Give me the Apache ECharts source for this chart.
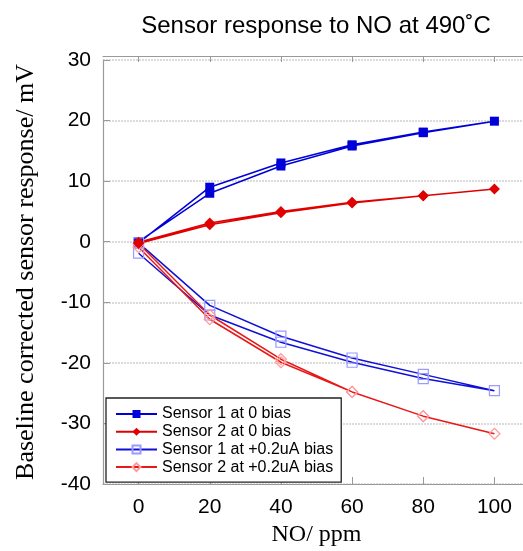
<!DOCTYPE html>
<html>
<head>
<meta charset="utf-8">
<script src="https://cdn.jsdelivr.net/npm/echarts@6/dist/echarts.min.js"></script>
<style>
html,body{margin:0;padding:0;background:#fff;}
#chart{width:523px;height:551px;}
</style>
</head>
<body>
<div id="chart"></div>
<script>
// NO concentration sequence (ppm): up-run then down-run
const noPpm = [0, 20, 40, 60, 80, 100, 80, 60, 40, 20, 0];
const sensor1ZeroBias   = [0.0, 8.0, 12.5, 15.8, 18.0, 19.9, 18.1, 16.0, 13.0, 9.0, -0.2];
const sensor2ZeroBias   = [-0.3, 2.8, 4.8, 6.4, 7.6, 8.7, 7.6, 6.5, 5.0, 3.1, -0.1];
const sensor1PlusBias   = [-0.2, -10.5, -15.6, -19.2, -21.9, -24.6, -22.6, -19.9, -16.6, -12.1, -1.9];
const sensor2PlusBias   = [-0.3, -12.1, -19.4, -24.8, -28.8, -31.7, -28.8, -24.8, -19.9, -12.8, -0.9];
const xTicks = [0, 20, 40, 60, 80, 100];
const seriesNames = ['Sensor 1 at 0 bias', 'Sensor 2 at 0 bias', 'Sensor 1 at +0.2uA bias', 'Sensor 2 at +0.2uA bias'];

const pair = ys => noPpm.map((x, i) => [x, ys[i]]);

const chart = echarts.init(document.getElementById('chart'), null, {renderer: 'canvas'});
const sans = "'Liberation Sans', Arial, sans-serif";
const serif = "'Liberation Serif', 'Times New Roman', serif";
const axisGray = '#9a9a9a';

chart.setOption({
  animation: false,
  backgroundColor: '#fff',
  title: {
    text: 'Sensor response to NO at 490˚C',
    left: 311, top: 9, textAlign: 'center',
    textStyle: {fontFamily: sans, fontSize: 24, fontWeight: 'normal', color: '#000'}
  },
  grid: {left: 103, top: 60, width: 427, height: 424, containLabel: false, outerBoundsMode: 'none'},
  legend: {
    orient: 'vertical', left: 106, top: 398,
    padding: [8, 8, 7, 9],
    itemWidth: 41, itemHeight: 10, itemGap: 1.7,
    backgroundColor: '#fff', borderColor: '#222', borderWidth: 1.3,
    textStyle: {fontFamily: sans, fontSize: 16, color: '#000', lineHeight: 16},
    data: seriesNames
  },
  xAxis: [{
    type: 'value', min: -10, max: 110,
    name: 'NO/ ppm', nameLocation: 'middle', nameGap: 38,
    nameTextStyle: {fontFamily: serif, fontSize: 24, color: '#000'},
    axisLine: {show: true, onZero: false, lineStyle: {color: axisGray, width: 1.2}},
    axisTick: {show: true, inside: true, length: 7, customValues: xTicks, lineStyle: {color: axisGray}},
    axisLabel: {customValues: xTicks, margin: 13, fontFamily: sans, fontSize: 21, color: '#000'},
    splitLine: {show: false}
  }, {
    type: 'value', min: -10, max: 110, position: 'top', offset: 4,
    axisLine: {show: true, onZero: false, lineStyle: {color: axisGray, width: 1.2}},
    axisTick: {show: true, inside: true, length: 6, customValues: xTicks, lineStyle: {color: axisGray}},
    axisLabel: {show: false},
    splitLine: {show: false}
  }],
  yAxis: {
    type: 'value', min: -40, max: 30, interval: 10,
    name: 'Baseline corrected sensor response/ mV', nameLocation: 'middle', nameGap: 64,
    nameTextStyle: {fontFamily: serif, fontSize: 26, color: '#000'},
    axisLine: {show: true, onZero: false, lineStyle: {color: axisGray, width: 1.2}},
    axisTick: {show: true, inside: true, length: 7, lineStyle: {color: axisGray}},
    axisLabel: {margin: 12, fontFamily: sans, fontSize: 21, color: '#000'},
    splitLine: {show: true, lineStyle: {color: '#cfcfcf', width: 1.5, type: [2, 1]}}
  },
  series: [{
    name: seriesNames[0], type: 'line', data: pair(sensor1ZeroBias),
    symbol: 'rect', symbolSize: 9,
    itemStyle: {color: '#0000d8'}, lineStyle: {color: '#0000d8', width: 1.5}
  }, {
    name: seriesNames[2], type: 'line', data: pair(sensor1PlusBias),
    symbol: 'rect', symbolSize: 10,
    itemStyle: {color: 'rgba(255,255,255,0)', borderColor: '#9a9aff', borderWidth: 1.2},
    lineStyle: {color: '#1010d8', width: 1.5}
  }, {
    name: seriesNames[3], type: 'line', data: pair(sensor2PlusBias),
    symbol: 'diamond', symbolSize: 11,
    itemStyle: {color: 'rgba(255,255,255,0)', borderColor: '#ff9a9a', borderWidth: 1.2},
    lineStyle: {color: '#e81818', width: 1.5}
  }, {
    name: seriesNames[1], type: 'line', data: pair(sensor2ZeroBias),
    symbol: 'diamond', symbolSize: 11,
    itemStyle: {color: '#e00000'}, lineStyle: {color: '#e00000', width: 1.5}
  }]
});
</script>
</body>
</html>
